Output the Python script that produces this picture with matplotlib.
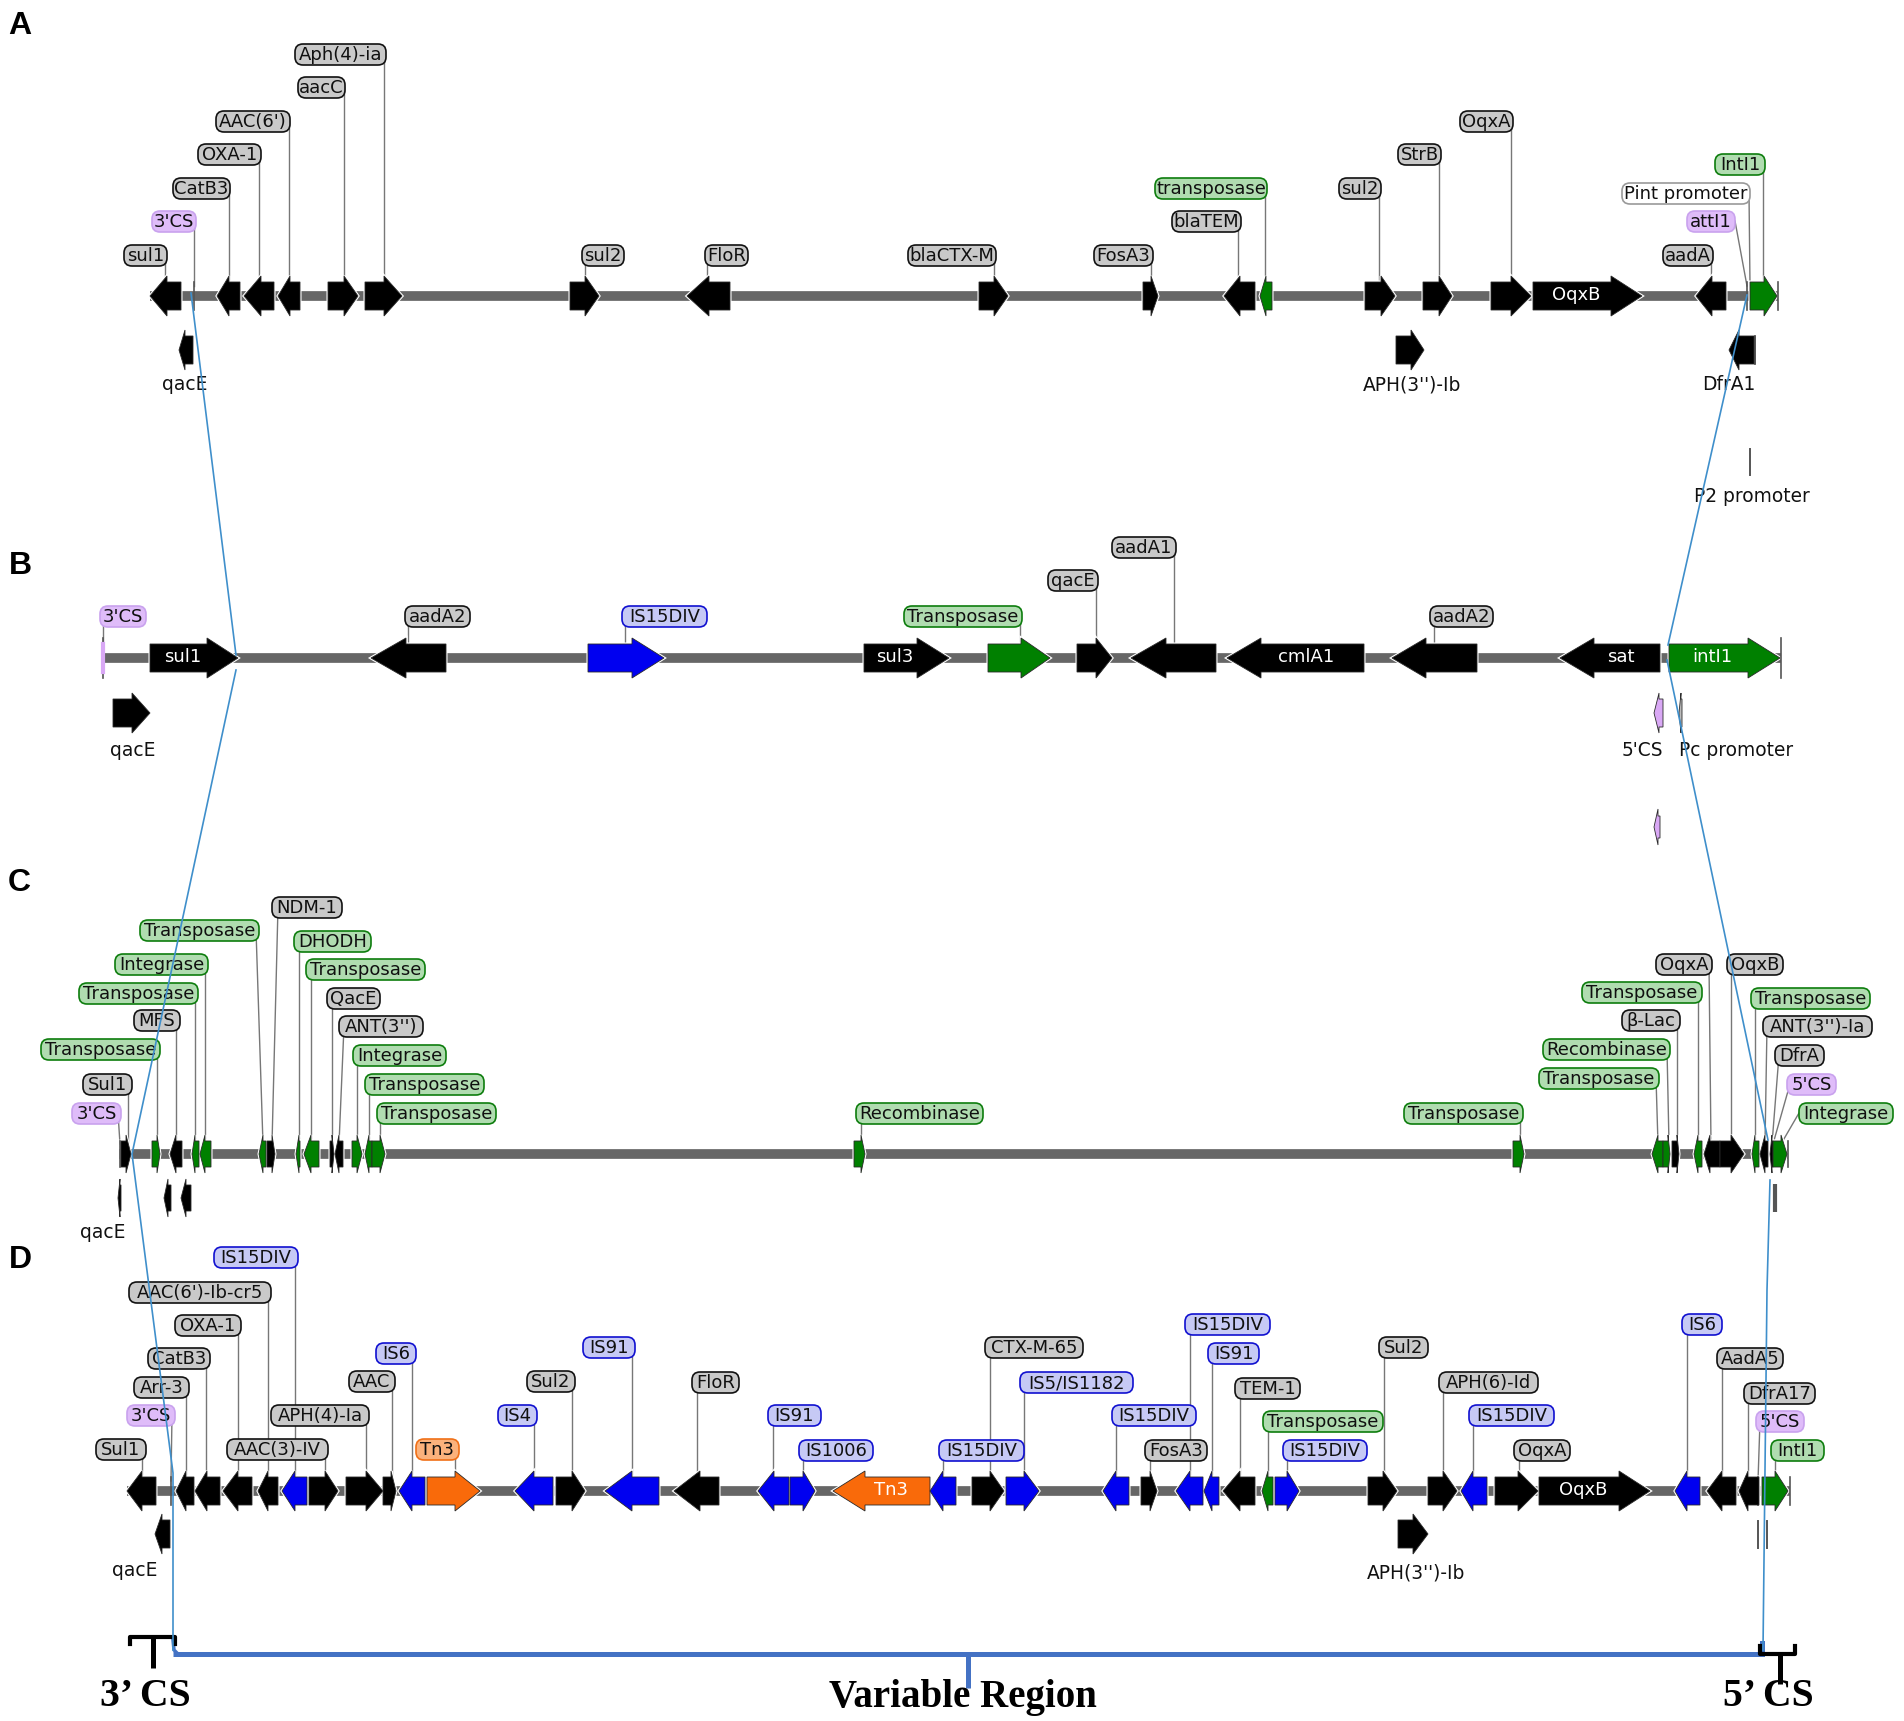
import matplotlib
matplotlib.use("Agg")
import matplotlib.pyplot as plt
from matplotlib.patches import Polygon, FancyBboxPatch

# track A
a_y = 296
a_line = [150, 1778]
a_left = [150, 217, 244, 278, 328, 365, 570, 687, 979, 1143, 1224, 1260, 1365, 1423, 1491, 1533, 1696, 1750]
a_right = [181, 240, 274, 300, 358, 402, 599, 730, 1008, 1158, 1255, 1272, 1395, 1452, 1531, 1642, 1726, 1777]
a_neck = [167, 229, 261, 290, 344, 384, 585, 709, 994, 1151, 1240, 1266, 1381, 1439, 1511, 1611, 1712, 1764]
a_strand = [-1, -1, -1, -1, 1, 1, 1, -1, 1, 1, -1, -1, 1, 1, 1, 1, -1, 1]
a_kind = ["res"] * 11 + ["mob"] + ["res"] * 5 + ["mob"]
a_inner = [""] * 15 + ["OqxB"] + [""] * 2
a_ticks = [194, 1747, 1778]

a_tags = ["Aph(4)-ia", "aacC", "AAC(6')", "OXA-1", "CatB3", "3'CS", "sul1", "sul2", "FloR", "blaCTX-M", "FosA3",
          "blaTEM", "transposase", "sul2", "StrB", "OqxA", "IntI1", "Pint promoter", "attI1", "aadA"]
a_tag_l = [295, 298, 216, 198, 173, 152, 124, 582, 705, 908, 1094, 1172, 1155, 1339, 1398, 1460, 1715, 1622, 1687, 1663]
a_tag_r = [386, 345, 290, 261, 230, 196, 167, 624, 748, 996, 1153, 1241, 1267, 1381, 1441, 1513, 1765, 1750, 1735, 1713]
a_tag_y = [54, 87, 121, 154, 188, 221, 255, 255, 255, 255, 255, 221, 188, 188, 154, 121, 164, 193, 221, 255]
a_tag_from = [384, 344, 289, 259, 229, 194, 165, 585, 707, 994, 1151, 1238, 1265, 1379, 1439, 1511, 1763, 1749, 1735, 1711]
a_tag_to = [384, 344, 289, 259, 229, 194, 165, 585, 707, 994, 1151, 1238, 1265, 1379, 1439, 1511, 1763, 1750, 1747, 1711]
a_tag_kind = ["res"] * 5 + ["site"] + ["res"] * 6 + ["mob"] + ["res"] * 3 + ["mob", "plain", "site", "res"]

# second row of A
a2_y = 350
a2_left = [179, 1396, 1729]
a2_right = [193, 1424, 1754]
a2_neck = [185, 1411, 1739]
a2_strand = [-1, 1, -1]
a2_kind = ["res", "res", "res"]
a2_names = ["qacE", "APH(3'')-Ib", "DfrA1", "P2 promoter"]
a2_name_x = [185, 1412, 1729, 1752]
a2_name_y = [385, 385, 385, 497]

# track B
b_y = 658
b_line = [104, 1781]
b_left = [150, 371, 588, 864, 988, 1077, 1131, 1227, 1392, 1560, 1669]
b_right = [238, 446, 664, 949, 1050, 1112, 1216, 1364, 1477, 1660, 1780]
b_neck = [207, 406, 632, 917, 1021, 1096, 1166, 1261, 1426, 1594, 1748]
b_strand = [1, -1, 1, 1, 1, 1, -1, -1, -1, -1, 1]
b_kind = ["res", "res", "is", "res", "mob", "res", "res", "res", "res", "res", "mob"]
b_inner = ["sul1", "", "", "sul3", "", "", "", "cmlA1", "", "sat", "intI1"]
b_ticks = [103, 1781]

b_tags = ["3'CS", "aadA2", "IS15DIV", "Transposase", "qacE", "aadA1", "aadA2"]
b_tag_l = [100, 405, 622, 904, 1048, 1112, 1430]
b_tag_r = [146, 470, 707, 1022, 1098, 1176, 1493]
b_tag_y = [616, 616, 616, 616, 580, 547, 616]
b_tag_from = [103, 408, 625, 1020, 1096, 1174, 1434]
b_tag_to = [103, 408, 625, 1020, 1096, 1174, 1434]
b_tag_kind = ["site", "res", "is", "mob", "res", "res", "res"]

# second and third row of B
b2_y = 713
b2_left = [113, 1654, 1679]
b2_right = [150, 1663, 1682]
b2_neck = [132, 1659, 1681]
b2_strand = [1, -1, -1]
b2_kind = ["res", "site", "plain"]
b2_names = ["qacE", "5'CS", "Pc promoter"]
b2_name_x = [133, 1642, 1736]
b2_name_y = [750, 750, 750]
b3_y = 827
b3_left = [1654]
b3_right = [1660]
b3_neck = [1658]
b3_strand = [-1]
b3_kind = ["site"]

# track C
c_y = 1154
c_line = [119, 1788]
c_left = [121, 152, 170, 192, 200, 259, 267, 296, 304, 330, 335, 352, 365, 372, 854, 1513, 1652, 1663, 1672,
          1694, 1704, 1720, 1752, 1760, 1770, 1773]
c_right = [131, 160, 182, 199, 211, 266, 275, 300, 319, 334, 343, 362, 372, 385, 865, 1524, 1663, 1670, 1679,
           1702, 1720, 1744, 1759, 1768, 1773, 1787]
c_neck = [126, 157, 176, 195, 205, 263, 272, 299, 311, 332, 339, 357, 369, 380, 861, 1520, 1658, 1668, 1677,
          1698, 1710, 1731, 1755, 1765, 1772, 1781]
c_strand = [1, 1, -1, -1, -1, -1, 1, -1, -1, 1, -1, 1, -1, 1, 1, 1, -1, 1, 1,
            -1, -1, 1, -1, -1, -1, 1]
c_kind = ["res", "mob", "res", "mob", "mob", "mob", "res", "mob", "mob", "res", "res", "mob", "mob", "mob", "mob", "mob",
          "mob", "mob", "res", "mob", "res", "res", "mob", "res", "res", "mob"]
c_ticks = [120, 1788]

c_tags = ["NDM-1", "Transposase", "DHODH", "Integrase", "Transposase", "Transposase", "QacE", "MFS", "ANT(3'')",
          "Transposase", "Integrase", "Sul1", "Transposase", "3'CS", "Transposase", "Recombinase", "Transposase",
          "OqxA", "OqxB", "Transposase", "Transposase", "β-Lac", "ANT(3'')-Ia", "Recombinase", "DfrA", "Transposase",
          "5'CS", "Integrase"]
c_tag_l = [272, 140, 294, 115, 306, 79, 327, 134, 339, 41, 353, 83, 365, 72, 377, 856, 1404,
           1656, 1727, 1582, 1751, 1622, 1763, 1543, 1775, 1539, 1787, 1799]
c_tag_r = [342, 259, 371, 208, 425, 198, 380, 180, 423, 160, 446, 132, 484, 121, 496, 983, 1523,
           1712, 1783, 1702, 1870, 1680, 1872, 1670, 1824, 1659, 1836, 1893]
c_tag_y = [907, 930, 941, 964, 969, 993, 998, 1020, 1026, 1049, 1055, 1084, 1084, 1113, 1113, 1113, 1113,
           964, 964, 992, 998, 1020, 1026, 1049, 1055, 1078, 1084, 1113]
c_tag_from = [278, 256, 299, 205, 311, 195, 332, 176, 344, 157, 357, 128, 369, 118, 380, 861, 1520,
              1709, 1731, 1698, 1755, 1677, 1767, 1667, 1779, 1656, 1790, 1799]
c_tag_to = [272, 263, 299, 205, 311, 195, 332, 176, 339, 157, 357, 128, 369, 120, 380, 861, 1520,
            1711, 1731, 1698, 1755, 1677, 1765, 1669, 1772, 1658, 1773, 1781]
c_tag_kind = ["res", "mob", "mob", "mob", "mob", "mob", "res", "res", "res", "mob", "mob", "res", "mob", "site", "mob",
              "mob", "mob", "res", "res", "mob", "mob", "res", "res", "mob", "res", "mob", "site", "mob"]

# second row of C
c2_y = 1198
c2_left = [118, 164, 181]
c2_right = [121, 171, 191]
c2_neck = [120, 168, 186]
c2_strand = [-1, -1, -1]
c2_kind = ["res", "res", "res"]
c2_names = ["qacE"]
c2_name_x = [103]
c2_name_y = [1232]

# track D
d_y = 1491
d_line = [127, 1790]
d_left = [127, 176, 195, 223, 258, 282, 309, 346, 383, 399, 427, 515, 556, 605, 674, 758, 790, 833, 930,
          972, 1006, 1103, 1141, 1176, 1204, 1223, 1262, 1275, 1368, 1428, 1461, 1495, 1539, 1675, 1707, 1739, 1762]
d_right = [156, 194, 220, 252, 278, 307, 338, 383, 396, 425, 480, 553, 585, 659, 719, 789, 815, 930, 956,
           1004, 1039, 1129, 1157, 1203, 1219, 1255, 1273, 1299, 1397, 1457, 1487, 1538, 1650, 1700, 1736, 1759, 1788]
d_neck = [142, 186, 207, 238, 268, 295, 325, 366, 391, 412, 455, 534, 572, 632, 700, 774, 803, 865, 943,
          990, 1024, 1116, 1150, 1190, 1212, 1240, 1268, 1287, 1383, 1443, 1473, 1518, 1619, 1687, 1722, 1748, 1775]
d_strand = [-1, -1, -1, -1, -1, -1, 1, 1, 1, -1, 1, -1, 1, -1, -1, -1, 1, -1, -1,
            1, 1, -1, 1, -1, -1, -1, -1, 1, 1, 1, -1, 1, 1, -1, -1, -1, 1]
d_kind = ["res", "res", "res", "res", "res", "is", "res", "res", "res", "is", "tn", "is", "res", "is", "res", "is", "is",
          "tn", "is", "res", "is", "is", "res", "is", "is", "res", "mob", "is", "res", "res", "is", "res", "res", "is",
          "res", "res", "mob"]
d_inner = [""] * 17 + ["Tn3"] + [""] * 14 + ["OqxB"] + [""] * 4
d_ticks = [171, 1758, 1790]

d_tags = ["IS15DIV", "AAC(6')-Ib-cr5", "OXA-1", "IS6", "IS91", "CatB3", "Arr-3", "AAC", "Sul2", "3'CS", "APH(4)-Ia",
          "IS4", "Sul1", "AAC(3)-IV", "Tn3", "FloR", "IS91", "IS1006", "CTX-M-65", "IS5/IS1182", "IS15DIV", "IS15DIV",
          "FosA3", "IS15DIV", "IS91", "TEM-1", "Transposase", "IS15DIV", "Sul2", "APH(6)-Id", "IS15DIV", "OqxA", "IS6",
          "AadA5", "DfrA17", "5'CS", "IntI1"]
d_tag_l = [214, 129, 175, 376, 583, 148, 134, 349, 527, 127, 271, 498, 96, 227, 416, 692, 768, 799, 985, 1020, 939, 1112,
           1145, 1185, 1208, 1235, 1263, 1283, 1379, 1439, 1469, 1514, 1682, 1717, 1744, 1756, 1771]
d_tag_r = [298, 271, 241, 416, 635, 210, 189, 395, 575, 175, 369, 537, 146, 328, 459, 739, 821, 873, 1083, 1133, 1024, 1196,
           1207, 1270, 1259, 1300, 1383, 1367, 1428, 1538, 1554, 1570, 1722, 1783, 1815, 1804, 1824]
d_tag_y = [1257, 1292, 1325, 1353, 1347, 1358, 1387, 1381, 1381, 1415, 1415, 1415, 1449, 1449, 1449, 1382, 1415, 1450,
           1347, 1382, 1450, 1415, 1450, 1324, 1353, 1388, 1421, 1450, 1347, 1382, 1415, 1450, 1324, 1358, 1393, 1421, 1450]
d_tag_from = [295, 268, 238, 412, 632, 206, 186, 392, 572, 172, 366, 534, 142, 325, 455, 697, 773, 803, 990, 1024, 943, 1116,
              1150, 1190, 1212, 1240, 1268, 1287, 1384, 1443, 1473, 1519, 1687, 1722, 1748, 1760, 1775]
d_tag_to = [295, 268, 238, 412, 632, 206, 186, 392, 572, 171, 366, 534, 142, 325, 455, 697, 773, 803, 990, 1024, 943, 1116,
            1150, 1190, 1212, 1240, 1268, 1287, 1384, 1443, 1473, 1519, 1687, 1722, 1748, 1758, 1775]
d_tag_kind = ["is", "res", "res", "is", "is", "res", "res", "res", "res", "site", "res", "is", "res", "res", "tn", "res",
              "is", "is", "res", "is", "is", "is", "res", "is", "is", "res", "mob", "is", "res", "res", "is", "res", "is",
              "res", "res", "site", "mob"]

# second row of D
d2_y = 1534
d2_left = [155, 1398]
d2_right = [170, 1428]
d2_neck = [162, 1413]
d2_strand = [-1, 1]
d2_kind = ["res", "res"]
d2_names = ["qacE", "APH(3'')-Ib"]
d2_name_x = [135, 1416]
d2_name_y = [1570, 1573]

# blue lines linking the conserved segments
left_link_x = [191, 236]
left_link_y = [293, 655]
left_link2_x = [236, 132, 173, 173]
left_link2_y = [670, 1154, 1473, 1650]
right_link_x = [1747, 1668]
right_link_y = [295, 645]
right_link2_x = [1667, 1768]
right_link2_y = [660, 1140]
right_link3_x = [1770, 1767, 1763]
right_link3_y = [1180, 1290, 1650]

panel_names = ["A", "B", "C", "D"]
panel_x = [8, 9, 8, 9]
panel_y = [34, 574, 891, 1268]

gene_colors = {"res": "#000000", "mob": "#008000", "is": "#0000f0", "tn": "#f96a0a", "site": "#d9a8f5", "plain": "#bbbbbb"}
tag_faces = {"res": "#c9c9c9", "mob": "#b0dcb0", "is": "#c6c9f5", "tn": "#fbb27c", "site": "#dfbcf9", "plain": "#ffffff"}
tag_edges = {"res": "#111111", "mob": "#0d7d0d", "is": "#1010d0", "tn": "#f07018", "site": "#c9a2ee", "plain": "#999999"}

plt.rcParams["font.family"] = ["DejaVu Sans"]
fig = plt.figure(figsize=(19.04, 17.21), dpi=100)
ax = fig.add_axes([0, 0, 1, 1])
ax.set_xlim(0, 1904)
ax.set_ylim(1721, 0)
ax.axis("off")

LABEL_SIZE = 13.0


def draw_genes(y, left, right, neck, strand, kind, inner=None, body=14, head=20):
    for i in range(len(left)):
        l, r, n = left[i], right[i], neck[i]
        if strand[i] > 0:
            pts = [(l, y - body), (n, y - body), (n, y - head), (r, y), (n, y + head), (n, y + body), (l, y + body)]
        else:
            pts = [(r, y - body), (n, y - body), (n, y - head), (l, y), (n, y + head), (n, y + body), (r, y + body)]
        ax.add_patch(Polygon(pts, closed=True, fc="white", ec="white", lw=2.2, zorder=2))
        ax.add_patch(Polygon(pts, closed=True, fc=gene_colors[kind[i]], ec="#2a2a2a", lw=0.6, zorder=3))
        if inner and inner[i]:
            if strand[i] > 0:
                tx = (l + n) / 2 + 4
            else:
                tx = (r + n) / 2 - 6
            ax.text(tx, y - 1, inner[i], color="white", ha="center", va="center", fontsize=LABEL_SIZE, zorder=4)


def draw_tags(y, tags, tl, tr, ty, tfrom, tto, tkind):
    for i in range(len(tags)):
        ax.plot([tfrom[i], tto[i]], [ty[i], y - 10], color="#777777", lw=1.0, zorder=1)
    for i in range(len(tags)):
        ax.add_patch(FancyBboxPatch((tl[i], ty[i] - 10), tr[i] - tl[i], 21, boxstyle="round,pad=0,rounding_size=8",
                                    fc=tag_faces[tkind[i]], ec=tag_edges[tkind[i]], lw=1.2, zorder=5))
        ax.text((tl[i] + tr[i]) / 2, ty[i] + 1, tags[i], ha="center", va="center", fontsize=LABEL_SIZE, color="#101010", zorder=6)


def draw_track(y, line, ticks, body=14):
    ax.plot(line, [y, y], color="#666666", lw=7, solid_capstyle="butt", zorder=1)
    for t in ticks:
        ax.plot([t, t], [y - body, y + body], color="#555555", lw=1.2, zorder=3)


draw_track(a_y, a_line, a_ticks)
draw_genes(a_y, a_left, a_right, a_neck, a_strand, a_kind, a_inner)
draw_tags(a_y, a_tags, a_tag_l, a_tag_r, a_tag_y, a_tag_from, a_tag_to, a_tag_kind)
draw_genes(a2_y, a2_left, a2_right, a2_neck, a2_strand, a2_kind)
ax.plot([1755, 1755], [336, 364], color="#333333", lw=1.2, zorder=3)
ax.plot([1750, 1750], [449, 475], color="#555555", lw=1.4, zorder=3)

draw_track(b_y, b_line, b_ticks, body=20)
draw_genes(b_y, b_left, b_right, b_neck, b_strand, b_kind, b_inner)
draw_tags(b_y, b_tags, b_tag_l, b_tag_r, b_tag_y, b_tag_from, b_tag_to, b_tag_kind)
ax.plot([103, 103], [644, 672], color="#d9a8f5", lw=3, zorder=3)
draw_genes(b2_y, b2_left, b2_right, b2_neck, b2_strand, b2_kind)
draw_genes(b3_y, b3_left, b3_right, b3_neck, b3_strand, b3_kind, body=11, head=18)

draw_track(c_y, c_line, c_ticks, body=13)
draw_genes(c_y, c_left, c_right, c_neck, c_strand, c_kind, body=13, head=19)
draw_tags(c_y, c_tags, c_tag_l, c_tag_r, c_tag_y, c_tag_from, c_tag_to, c_tag_kind)
draw_genes(c2_y, c2_left, c2_right, c2_neck, c2_strand, c2_kind, body=13, head=19)
ax.plot([1775, 1775], [1184, 1212], color="#555555", lw=3, solid_capstyle="butt", zorder=3)

draw_track(d_y, d_line, d_ticks)
draw_genes(d_y, d_left, d_right, d_neck, d_strand, d_kind, d_inner)
draw_tags(d_y, d_tags, d_tag_l, d_tag_r, d_tag_y, d_tag_from, d_tag_to, d_tag_kind)
draw_genes(d2_y, d2_left, d2_right, d2_neck, d2_strand, d2_kind)
for t in [1758, 1767]:
    ax.plot([t, t], [1521, 1548], color="#555555", lw=1.4, zorder=3)

for names, xs, ys in [(a2_names, a2_name_x, a2_name_y), (b2_names, b2_name_x, b2_name_y),
                      (c2_names, c2_name_x, c2_name_y), (d2_names, d2_name_x, d2_name_y)]:
    for n, x, y in zip(names, xs, ys):
        ax.text(x, y, n, ha="center", va="center", fontsize=LABEL_SIZE + 0.4, color="#111111", zorder=4)

for lx, ly in [(left_link_x, left_link_y), (left_link2_x, left_link2_y), (right_link_x, right_link_y),
               (right_link2_x, right_link2_y), (right_link3_x, right_link3_y)]:
    ax.plot(lx, ly, color="#3f8fcb", lw=1.2, zorder=8)

# brackets at the bottom
ax.plot([173, 1762], [1654, 1654], color="#4472c4", lw=3.6, solid_capstyle="butt", zorder=7)
ax.plot([968, 968], [1654, 1688], color="#4472c4", lw=3.6, solid_capstyle="butt", zorder=7)
ax.plot([173, 174, 178], [1640, 1650, 1654], color="#4472c4", lw=2.5, zorder=7)
ax.plot([1762, 1762], [1643, 1654], color="#4472c4", lw=3.6, zorder=7)
ax.plot([130, 130, 175, 175], [1644, 1637, 1637, 1644], color="black", lw=3, solid_joinstyle="round", zorder=7)
ax.plot([153, 153], [1637, 1668], color="black", lw=3.6, solid_capstyle="butt", zorder=7)
ax.plot([1760, 1760, 1795, 1795], [1646, 1654, 1654, 1646], color="black", lw=3, solid_joinstyle="round", zorder=7)
ax.plot([1780, 1780], [1654, 1684], color="black", lw=3.6, solid_capstyle="butt", zorder=7)

for txt, x, size in [("3’ CS", 145, 28.5), ("Variable Region", 963, 28), ("5’ CS", 1768, 28.5)]:
    ax.text(x, 1697, txt, ha="center", va="center", fontsize=size, fontweight="bold", family="Liberation Serif", zorder=9)

for n, x, y in zip(panel_names, panel_x, panel_y):
    ax.text(x, y, n, ha="left", va="baseline", fontsize=23, fontweight="bold", family="Liberation Sans", zorder=9)

fig.savefig("out.png", dpi=100)
